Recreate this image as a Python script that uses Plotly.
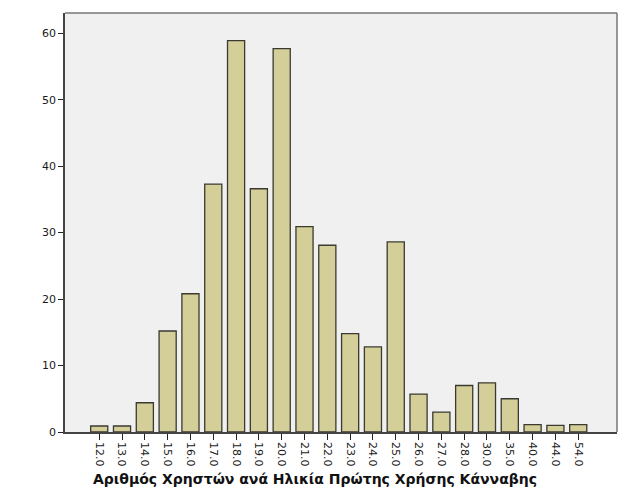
import plotly.graph_objects as go

ages = ["12.0", "13.0", "14.0", "15.0", "16.0", "17.0", "18.0", "19.0", "20.0", "21.0", "22.0",
        "23.0", "24.0", "25.0", "26.0", "27.0", "28.0", "30.0", "35.0", "40.0", "44.0", "54.0"]
counts = [0.9, 0.9, 4.4, 15.2, 20.8, 37.3, 58.9, 36.6, 57.7, 30.9, 28.1,
          14.8, 12.8, 28.6, 5.7, 3.0, 7.0, 7.4, 5.0, 1.1, 1.0, 1.1]
y_ticks = [0, 10, 20, 30, 40, 50, 60]
x_title = "Αριθμός Χρηστών ανά Ηλικία Πρώτης Χρήσης Κάνναβης"

fig = go.Figure(go.Bar(
    x=ages, y=counts,
    marker=dict(color="#d4cf98", line=dict(color="#3a3a30", width=1.3)),
))

fig.update_layout(
    width=629, height=504,
    margin=dict(l=65, r=12, t=13, b=72),
    paper_bgcolor="white", plot_bgcolor="#f0f0f0",
    bargap=0.25,
    showlegend=False,
    font=dict(family="DejaVu Sans, sans-serif", size=11, color="#1a1a1a"),
    xaxis=dict(
        type="category", range=[-1.5, 22.7],
        tickangle=90, ticks="outside", ticklen=6, tickcolor="#222", tickwidth=1,
        showline=True, linecolor="#444", linewidth=1.5, mirror=False,
        showgrid=False, zeroline=False,
    ),
    yaxis=dict(
        range=[0, 63.05], tickvals=y_ticks,
        ticks="outside", ticklen=5, tickcolor="#222", tickwidth=1,
        showline=True, linecolor="#444", linewidth=1.5,
        showgrid=False, zeroline=False,
    ),
    annotations=[
        dict(text="<b>" + x_title + "</b>", xref="paper", yref="paper",
             x=0.453, y=-0.113, xanchor="center", yanchor="middle", showarrow=False,
             font=dict(size=14, color="#111")),
    ],
    shapes=[
        dict(type="line", xref="paper", yref="paper", x0=0, x1=1, y0=1, y1=1,
             line=dict(color="#777", width=1.5)),
        dict(type="line", xref="paper", yref="paper", x0=1, x1=1, y0=0, y1=1,
             line=dict(color="#777", width=1.5)),
    ],
)

fig.write_html("out.html")
